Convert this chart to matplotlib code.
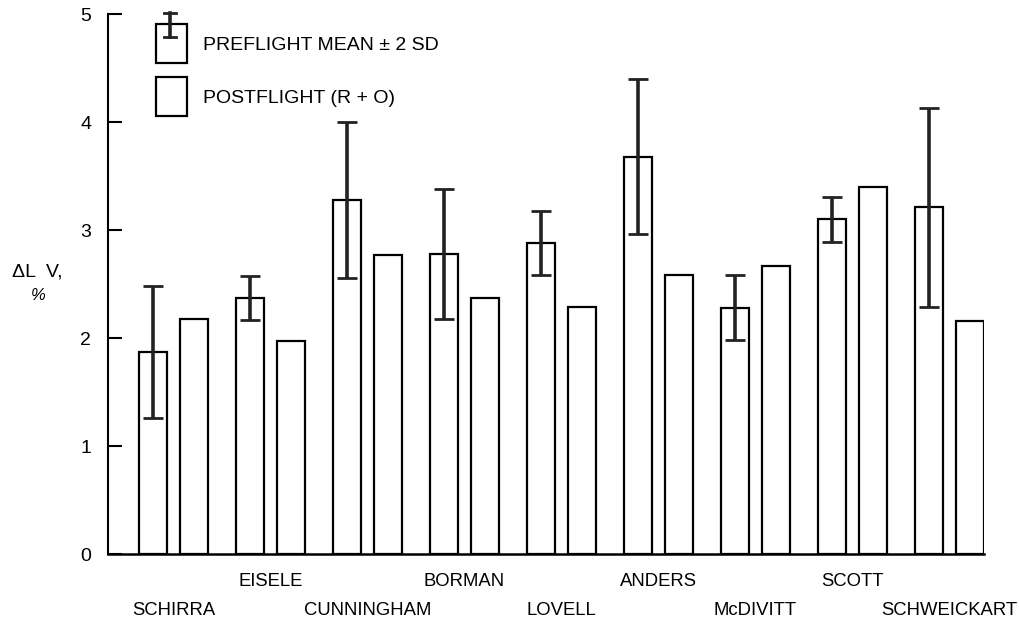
import matplotlib
matplotlib.use('Agg')
import matplotlib.pyplot as plt
import numpy as np

plt.rcParams['font.family'] = ['Liberation Sans', 'DejaVu Sans']

astronauts = ['SCHIRRA', 'EISELE', 'CUNNINGHAM', 'BORMAN', 'LOVELL',
              'ANDERS', 'McDIVITT', 'SCOTT', 'SCHWEICKART']
preflight_mean = [1.87, 2.37, 3.28, 2.78, 2.88, 3.68, 2.28, 3.10, 3.21]
preflight_2sd = [0.61, 0.20, 0.72, 0.60, 0.30, 0.72, 0.30, 0.21, 0.92]
postflight = [2.18, 1.97, 2.77, 2.37, 2.29, 2.58, 2.67, 3.40, 2.16]

x = np.arange(len(astronauts))
width = 0.29
offset = 0.42

fig = plt.figure(figsize=(10.19, 6.26), dpi=100)
ax = fig.add_axes([0.106, 0.115, 0.8597, 0.8626])

ax.bar(x, preflight_mean, width, fill=False, edgecolor='black', linewidth=1.6)
ax.bar(x + offset, postflight, width, fill=False, edgecolor='black', linewidth=1.6)
ax.errorbar(x, preflight_mean, yerr=preflight_2sd, fmt='none', ecolor='#222222',
            elinewidth=2.6, capsize=7, capthick=2)

ax.set_xlim(-0.464, 8.567)
ax.set_ylim(0, 5)
ax.spines['top'].set_visible(False)
ax.spines['right'].set_visible(False)
ax.spines['left'].set_linewidth(1.5)
ax.spines['bottom'].set_linewidth(1.8)

ax.set_yticks([0, 1, 2, 3, 4, 5])
ax.tick_params(axis='y', direction='in', length=10, width=1.5, pad=12, labelsize=14)
ax.set_xticks([])

# names alternate between two rows under the groups
for i, name in enumerate(astronauts):
    yrow = -0.25 if i % 2 == 1 else -0.52
    ax.text(x[i] + offset / 2, yrow, name, ha='center', va='center',
            fontsize=13.3, clip_on=False)

fig.text(0.037, 0.566, 'ΔL  V,', ha='center', va='center', fontsize=14)
fig.text(0.037, 0.528, '%', ha='center', va='center', fontsize=12, style='italic')

# legend drawn by hand: open boxes with labels
box_w, box_h = 31 / 1019, 39 / 626
lx = 156 / 1019
for top_px, label in [(24, 'PREFLIGHT MEAN ± 2 SD'), (77, 'POSTFLIGHT (R + O)')]:
    y0 = 1 - (top_px + 39) / 626
    fig.patches.append(plt.Rectangle((lx, y0), box_w, box_h, fill=False,
                                     edgecolor='black', linewidth=1.6,
                                     transform=fig.transFigure))
    fig.text(203 / 1019, y0 + box_h * 0.45, label, ha='left', va='center', fontsize=14)

ex = 170 / 1019
fig.add_artist(plt.Line2D([ex, ex], [1 - 13 / 626, 1 - 37 / 626], color='#222222',
                          linewidth=2.6, transform=fig.transFigure))
for yp in [13, 37]:
    fig.add_artist(plt.Line2D([ex - 6 / 1019, ex + 6 / 1019], [1 - yp / 626] * 2,
                              color='#222222', linewidth=2, transform=fig.transFigure))

fig.savefig('out.png', dpi=100)
